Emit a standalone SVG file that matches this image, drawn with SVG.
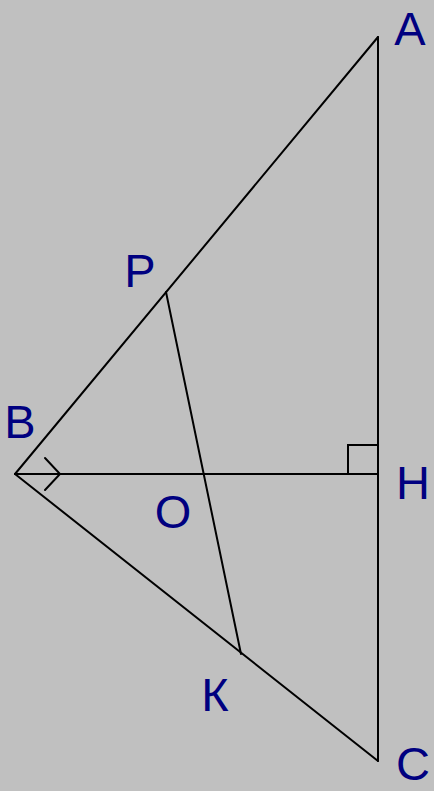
<svg xmlns="http://www.w3.org/2000/svg" width="434" height="791" viewBox="0 0 434 791">
<style>
.ln{stroke:#000;stroke-width:2;fill:none;stroke-linecap:round;stroke-linejoin:miter}
.lb{font-family:"Liberation Sans",Arial,sans-serif;font-size:47px;fill:#000080;text-anchor:middle}
</style>
<rect width="434" height="791" fill="#c0c0c0"/>
<g id="connectors">
<line class="ln" x1="15" y1="474" x2="378" y2="37"/>
<line class="ln" x1="378" y1="37" x2="378" y2="761"/>
<line class="ln" x1="15" y1="474" x2="378" y2="761"/>
<line class="ln" x1="15" y1="474" x2="378" y2="474"/>
<line class="ln" x1="166" y1="292" x2="241" y2="654"/>
<polyline class="ln" points="348,474 348,445 378,445"/>
<polyline class="ln" points="45,458 60,474 45,490"/>
</g>
<g id="A"><text class="lb" x="410" y="45">A</text></g>
<g id="B"><text class="lb" x="20" y="438">B</text></g>
<g id="C"><text class="lb" x="413" y="780">C</text></g>
<g id="H"><text class="lb" x="413" y="499">H</text></g>
<g id="P"><text class="lb" x="140" y="287">P</text></g>
<g id="O"><text class="lb" x="173" y="528">O</text></g>
<g id="K"><text class="lb" x="215" y="711">К</text></g>
</svg>
